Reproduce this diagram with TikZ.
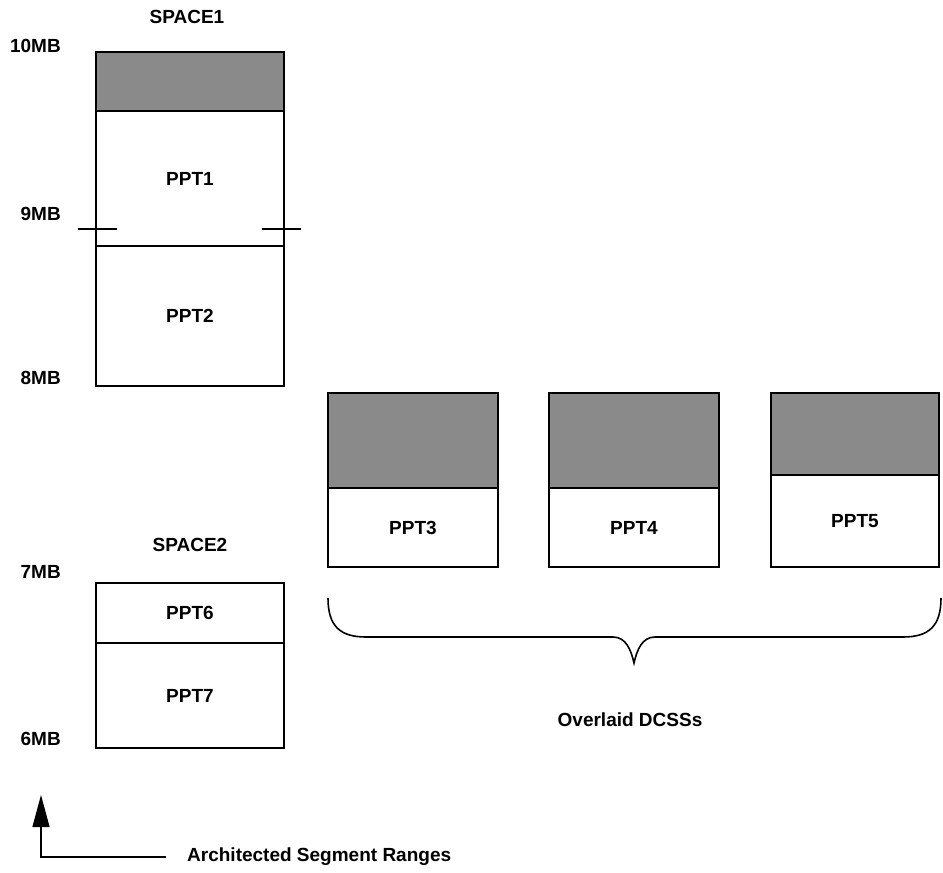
\documentclass[tikz,border=0pt]{standalone}
\usepackage{fontspec}
\setmainfont{Liberation Sans}
\usetikzlibrary{positioning,arrows.meta}

\begin{document}
\begin{tikzpicture}[x=1pt,y=-1pt,
  seg/.style={draw,line width=1.6pt,inner sep=0pt,outer sep=0pt,font=\fontsize{19}{21}\selectfont\bfseries},
  shade/.style={seg,fill=black!46},
  mb/.style={anchor=south east,inner sep=0pt,font=\fontsize{19}{21}\selectfont\bfseries},
  lbl/.style={inner sep=0pt,font=\fontsize{19}{21}\selectfont\bfseries}]
\useasboundingbox (0,0) rectangle (943,873);
% SPACE1
\node[lbl] (space1) at (187,17) {SPACE1};
\node[shade,minimum width=188pt,minimum height=59pt,anchor=north west] (top1) at (96,52) {};
\node[seg,minimum width=188pt,minimum height=135pt,below=0pt of top1] (ppt1) {PPT1};
\node[seg,minimum width=188pt,minimum height=140pt,below=0pt of ppt1] (ppt2) {PPT2};
\draw[line width=1.4pt] ([xshift=-18pt,yshift=17pt]ppt1.south west) -- ++(39,0);
\draw[line width=1.4pt] ([xshift=-22pt,yshift=17pt]ppt1.south east) -- ++(39,0);
\node[mb] (mb10) at (61,53) {10MB};
\node[mb] (mb9) at (61,221) {9MB};
\node[mb] (mb8) at (61,385) {8MB};
% SPACE2
\node[lbl] (space2) at (190,545) {SPACE2};
\node[seg,minimum width=188pt,minimum height=60pt,anchor=north west] (ppt6) at (96,583) {PPT6};
\node[seg,minimum width=188pt,minimum height=105pt,below=0pt of ppt6] (ppt7) {PPT7};
\node[mb] (mb7) at (61,579) {7MB};
\node[mb] (mb6) at (61,746) {6MB};
% overlaid DCSSs
\node[shade,minimum width=170pt,minimum height=95pt,anchor=north west] (top3) at (328,393) {};
\node[seg,minimum width=170pt,minimum height=79pt,below=0pt of top3] (ppt3) {PPT3};
\node[shade,minimum width=170pt,minimum height=95pt,anchor=north west] (top4) at (549,393) {};
\node[seg,minimum width=170pt,minimum height=79pt,below=0pt of top4] (ppt4) {PPT4};
\node[shade,minimum width=168pt,minimum height=82pt,anchor=north west] (top5) at (771,393) {};
\node[seg,minimum width=168pt,minimum height=92pt,below=0pt of top5] (ppt5) {PPT5};
\draw[line width=1.6pt] (328,598) .. controls (328,626) and (340,637) .. (366,637) -- (613,637)
  .. controls (626,637) and (631,650) .. (634,663) .. controls (637,650) and (642,637) .. (655,637)
  -- (903,637) .. controls (929,637) and (941,626) .. (941,598);
\node[lbl] (dcss) at (630,720) {Overlaid DCSSs};
% ranges
\node[lbl,anchor=west] (arch) at (187,857) {Architected Segment Ranges};
\coordinate (tip) at (41,795);
\draw[line width=1.2pt,-{Triangle[length=32pt,width=17pt]}] ([xshift=-21pt]arch.west) -| (tip);
\end{tikzpicture}
\end{document}
